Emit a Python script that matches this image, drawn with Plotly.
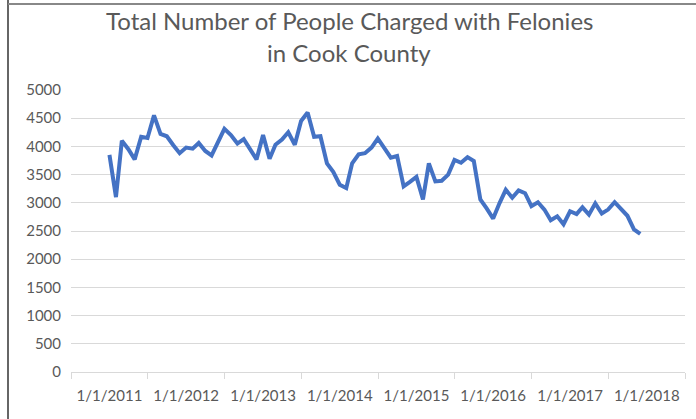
import plotly.graph_objects as go
import pandas as pd

months = pd.date_range("2011-01-01", periods=84, freq="MS")
charged = [
    3850, 3100, 4100, 3950, 3770, 4170, 4150, 4550, 4220, 4180, 4020, 3880,
    3980, 3960, 4060, 3920, 3840, 4100, 4310, 4200, 4050, 4130, 3950, 3770,
    4200, 3780, 4030, 4120, 4250, 4030, 4450, 4600, 4170, 4180, 3700, 3550,
    3320, 3260, 3700, 3860, 3880, 3980, 4140, 3980, 3800, 3830, 3290, 3370,
    3460, 3060, 3700, 3380, 3390, 3500, 3760, 3710, 3810, 3740, 3060, 2900,
    2720, 3000, 3230, 3090, 3220, 3170, 2940, 3010, 2880, 2690, 2760, 2620,
    2850, 2800, 2920, 2790, 2990, 2810, 2880, 3010, 2880, 2770, 2530, 2450,
]
label_dates = [f"{y}-01-01" for y in range(2011, 2019)]
label_text = [f"1/1/{y}" for y in range(2011, 2019)]
tick_dates = [f"{y}-07-02" for y in range(2010, 2019)]
y_ticks = list(range(0, 5001, 500))
title_lines = ["Total Number of People Charged with Felonies", "in Cook County"]

fig = go.Figure()
fig.add_trace(go.Scatter(
    x=months, y=charged, mode="lines",
    line=dict(color="#4472C4", width=4),
    showlegend=False, hoverinfo="skip",
))

fig.update_layout(
    width=696, height=419,
    margin=dict(l=71, r=11, t=90, b=47),
    paper_bgcolor="white", plot_bgcolor="white",
    font=dict(family="Lato", color="#595959", size=15),
)
for txt, yp in zip(title_lines, [1.248, 1.134]):
    fig.add_annotation(text=txt, xref="paper", yref="paper", x=0.453, y=yp,
                       xanchor="center", yanchor="middle", showarrow=False,
                       font=dict(family="Lato", size=24, color="#595959"))
fig.update_xaxes(
    type="date",
    range=["2010-07-02", "2018-07-02"],
    tickmode="array", tickvals=label_dates, ticktext=label_text,
    ticks="", showgrid=False, ticklabelstandoff=10,
    showline=True, linecolor="#d9d9d9", linewidth=1,
    minor=dict(tickmode="array", tickvals=tick_dates, ticks="outside",
               ticklen=6, tickcolor="#d9d9d9", tickwidth=1, showgrid=False),
    tickfont=dict(size=15, color="#595959"),
    zeroline=False, fixedrange=True,
)
fig.update_yaxes(
    range=[0, 5000],
    tickmode="array", tickvals=y_ticks,
    showgrid=True, gridcolor="#d9d9d9", gridwidth=1,
    zeroline=False, showline=False, ticks="",
    ticklabelstandoff=9,
    tickfont=dict(size=15, color="#595959"),
    fixedrange=True,
)
# chart frame
fig.add_shape(type="line", xref="paper", yref="paper",
              x0=-0.1026, x1=-0.1026, y0=-0.2, y1=1.33,
              line=dict(color="#333333", width=1.5))
fig.add_shape(type="line", xref="paper", yref="paper",
              x0=-0.1026, x1=1.1, y0=1.305, y1=1.305,
              line=dict(color="#888888", width=2))

fig.write_html("out.html")
